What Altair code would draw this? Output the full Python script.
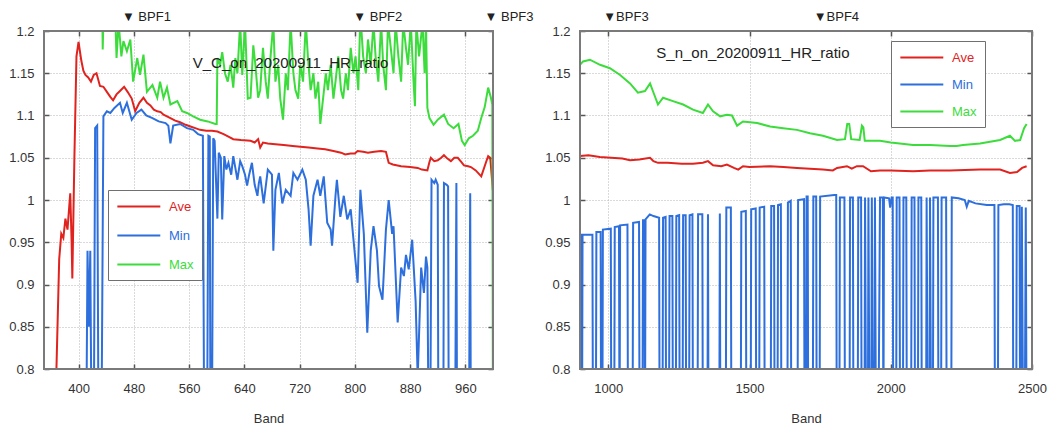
import altair as alt
import pandas as pd

# ---------------- VNIR panel: V_C_on_20200911_HR_ratio ----------------
vc_ave = [(360, 0.75), (368, 0.80), (372, 0.93), (375, 0.960), (378, 0.955), (381, 0.978), (384, 0.965),
          (388, 1.008), (390, 0.950), (391, 0.907), (394, 1.050), (397, 1.170), (400, 1.187), (404, 1.165),
          (407, 1.153), (410, 1.148), (414, 1.145), (418, 1.140), (422, 1.148), (426, 1.150), (431, 1.135),
          (436, 1.134), (441, 1.128), (446, 1.122), (450, 1.118), (455, 1.125), (460, 1.129), (466, 1.134),
          (471, 1.128), (477, 1.120), (482, 1.105), (488, 1.115), (494, 1.121), (499, 1.115), (504, 1.112),
          (509, 1.107), (514, 1.105), (519, 1.104), (523, 1.101), (528, 1.099), (533, 1.097), (540, 1.094),
          (547, 1.092), (555, 1.089), (562, 1.087), (569, 1.085), (576, 1.083), (585, 1.082), (593, 1.082),
          (601, 1.081), (610, 1.078), (617, 1.075), (624, 1.072), (635, 1.071), (649, 1.070), (655, 1.068),
          (660, 1.072), (663, 1.062), (667, 1.068), (674, 1.067), (685, 1.066), (697, 1.065), (710, 1.064),
          (721, 1.063), (733, 1.062), (746, 1.061), (757, 1.060), (769, 1.058), (780, 1.056), (786, 1.054),
          (794, 1.055), (800, 1.055), (804, 1.058), (812, 1.057), (819, 1.056), (828, 1.057), (838, 1.058),
          (845, 1.057), (849, 1.044), (855, 1.042), (867, 1.040), (880, 1.039), (891, 1.038), (897, 1.036),
          (905, 1.035), (908, 1.045), (910, 1.050), (915, 1.046), (920, 1.047), (925, 1.050), (929, 1.053),
          (934, 1.049), (939, 1.046), (944, 1.050), (949, 1.050), (954, 1.045), (958, 1.041), (964, 1.040),
          (968, 1.039), (975, 1.035), (983, 1.028), (990, 1.045), (993, 1.052), (996, 1.050), (998, 1.030),
          (1000, 1.010)]

vc_min = [(405, 0.70), (411, 0.70), (413, 0.94), (415, 0.85), (417, 0.94), (419, 0.70), (422, 0.70),
          (424, 1.085), (427, 1.088), (429, 0.70), (433, 0.70), (436, 1.099), (441, 1.105), (446, 1.103),
          (452, 1.109), (460, 1.115), (464, 1.103), (470, 1.115), (477, 1.095), (484, 1.103), (491, 1.107),
          (498, 1.100), (507, 1.097), (516, 1.093), (526, 1.091), (530, 1.088), (533, 1.067), (537, 1.088),
          (547, 1.090), (557, 1.085), (566, 1.083), (573, 1.078), (580, 1.076), (582, 0.70), (586, 0.70),
          (588, 1.076), (590, 1.075), (591, 0.70), (593, 0.70), (595, 1.073), (597, 1.070), (601, 0.978),
          (603, 1.056), (606, 1.050), (608, 0.977), (611, 1.052), (614, 1.036), (617, 1.044), (621, 1.030),
          (624, 1.052), (627, 1.038), (630, 1.024), (634, 1.046), (637, 1.040), (641, 1.030), (644, 1.017),
          (647, 1.030), (651, 1.044), (655, 1.018), (659, 1.005), (661, 1.020), (663, 1.028), (668, 0.996),
          (674, 1.036), (680, 1.030), (682, 0.940), (685, 1.012), (690, 1.032), (695, 0.996), (700, 1.012),
          (707, 1.005), (711, 1.032), (717, 1.024), (724, 1.036), (729, 1.024), (733, 0.989), (736, 0.946),
          (740, 1.005), (746, 1.024), (750, 1.005), (755, 1.028), (760, 0.973), (765, 0.965), (767, 0.946),
          (772, 1.005), (774, 1.024), (779, 0.980), (784, 1.005), (789, 0.977), (794, 0.989), (798, 0.953),
          (804, 0.902), (808, 1.012), (813, 0.960), (818, 0.843), (823, 0.940), (827, 0.969), (832, 0.940),
          (835, 0.898), (840, 0.882), (845, 0.965), (849, 1.000), (854, 0.960), (856, 0.969), (862, 0.855),
          (867, 0.920), (871, 0.910), (874, 0.935), (878, 0.918), (883, 0.953), (888, 0.880), (891, 0.790),
          (896, 0.920), (900, 0.890), (903, 0.933), (905, 0.920), (907, 0.70), (909, 0.70), (911, 1.024),
          (915, 1.020), (917, 1.024), (920, 1.018), (921, 0.70), (928, 0.70), (929, 1.020), (933, 1.018),
          (935, 1.016), (936, 0.70), (945, 0.70), (947, 1.020), (948, 0.70), (965, 0.70), (967, 1.008),
          (968, 0.70), (1000, 0.70)]

vc_max = [(350, 1.25), (430, 1.25), (434, 1.25), (435, 1.178), (437, 1.25), (452, 1.25), (455, 1.168),
          (458, 1.21), (462, 1.170), (465, 1.188), (470, 1.176), (475, 1.190), (479, 1.140), (485, 1.168),
          (489, 1.148), (494, 1.172), (499, 1.128), (507, 1.136), (514, 1.121), (518, 1.140), (523, 1.121),
          (528, 1.133), (533, 1.113), (543, 1.117), (550, 1.105), (557, 1.103), (566, 1.099), (576, 1.095),
          (587, 1.093), (598, 1.090), (600, 1.090), (601, 1.168), (605, 1.160), (608, 1.175), (612, 1.150),
          (616, 1.140), (620, 1.160), (624, 1.133), (627, 1.168), (630, 1.150), (634, 1.210), (637, 1.148),
          (641, 1.210), (645, 1.120), (649, 1.121), (653, 1.183), (656, 1.160), (660, 1.121), (663, 1.130),
          (667, 1.180), (671, 1.140), (674, 1.120), (678, 1.170), (682, 1.210), (685, 1.140), (689, 1.160),
          (692, 1.120), (696, 1.095), (700, 1.150), (703, 1.130), (707, 1.210), (711, 1.150), (714, 1.130),
          (718, 1.120), (721, 1.160), (725, 1.140), (729, 1.210), (732, 1.170), (736, 1.130), (740, 1.150),
          (743, 1.120), (747, 1.140), (750, 1.090), (754, 1.120), (758, 1.150), (761, 1.130), (765, 1.160),
          (769, 1.120), (772, 1.140), (776, 1.170), (780, 1.130), (783, 1.120), (787, 1.150), (790, 1.130),
          (794, 1.180), (798, 1.150), (801, 1.170), (805, 1.130), (808, 1.220), (812, 1.170), (816, 1.150),
          (819, 1.190), (823, 1.160), (827, 1.210), (830, 1.170), (834, 1.140), (838, 1.210), (841, 1.160),
          (845, 1.130), (848, 1.210), (852, 1.180), (856, 1.150), (859, 1.210), (863, 1.170), (867, 1.140),
          (870, 1.210), (874, 1.180), (877, 1.160), (881, 1.210), (885, 1.140), (887, 1.111), (889, 1.210),
          (893, 1.170), (898, 1.210), (901, 1.150), (903, 1.210), (905, 1.109), (908, 1.097), (914, 1.089),
          (920, 1.095), (929, 1.101), (935, 1.090), (943, 1.085), (950, 1.090), (955, 1.070), (959, 1.065),
          (965, 1.073), (971, 1.076), (978, 1.082), (983, 1.097), (988, 1.110), (993, 1.133), (997, 1.121),
          (999, 1.113), (1000, 0.70)]

# ---------------- SWIR panel: S_n_on_20200911_HR_ratio ----------------
sn_ave = [(900, 1.052), (930, 1.053), (970, 1.051), (1010, 1.050), (1050, 1.049), (1077, 1.047), (1110, 1.048),
          (1148, 1.050), (1160, 1.046), (1176, 1.044), (1210, 1.044), (1260, 1.043), (1300, 1.043), (1335, 1.044),
          (1353, 1.046), (1371, 1.041), (1400, 1.040), (1420, 1.042), (1445, 1.038), (1460, 1.036), (1477, 1.040),
          (1500, 1.039), (1573, 1.040), (1620, 1.039), (1668, 1.038), (1714, 1.037), (1760, 1.036), (1795, 1.035),
          (1810, 1.038), (1845, 1.040), (1862, 1.037), (1880, 1.040), (1902, 1.040), (1930, 1.034), (1962, 1.035),
          (2000, 1.035), (2079, 1.034), (2139, 1.035), (2210, 1.035), (2316, 1.036), (2387, 1.036), (2422, 1.032),
          (2447, 1.033), (2465, 1.038), (2481, 1.040)]

sn_min = [(900, 0.959), (905, 0.959), (907, 0.70), (909, 0.959), (944, 0.959), (946, 0.70), (956, 0.70),
          (958, 0.962), (973, 0.962), (975, 0.70), (979, 0.70), (981, 0.965), (1009, 0.966), (1011, 0.70),
          (1021, 0.70), (1023, 0.968), (1038, 0.969), (1040, 0.70), (1042, 0.970), (1068, 0.971), (1070, 0.70),
          (1086, 0.70), (1088, 0.973), (1109, 0.974), (1111, 0.70), (1121, 0.70), (1123, 0.976), (1128, 0.976),
          (1130, 0.70), (1132, 0.977), (1147, 0.983), (1160, 0.981), (1180, 0.979), (1182, 0.70), (1192, 0.70),
          (1194, 0.979), (1203, 0.980), (1205, 0.70), (1215, 0.70), (1217, 0.981), (1227, 0.981), (1229, 0.70),
          (1239, 0.70), (1241, 0.981), (1251, 0.982), (1253, 0.70), (1263, 0.70), (1265, 0.982), (1274, 0.982),
          (1276, 0.70), (1286, 0.70), (1288, 0.982), (1298, 0.983), (1300, 0.70), (1316, 0.70), (1318, 0.983),
          (1333, 0.983), (1335, 0.70), (1351, 0.70), (1353, 0.983), (1355, 0.70), (1393, 0.70), (1395, 0.984),
          (1397, 0.70), (1416, 0.70), (1418, 0.991), (1434, 0.991), (1436, 0.70), (1469, 0.70), (1471, 0.986),
          (1487, 0.987), (1489, 0.70), (1504, 0.70), (1506, 0.989), (1522, 0.990), (1524, 0.70), (1534, 0.70),
          (1536, 0.991), (1552, 0.992), (1554, 0.70), (1575, 0.70), (1577, 0.993), (1587, 0.993), (1589, 0.70),
          (1599, 0.70), (1601, 0.994), (1611, 0.995), (1613, 0.70), (1634, 0.70), (1636, 0.997), (1646, 0.999),
          (1648, 0.70), (1670, 0.70), (1672, 1.000), (1693, 1.001), (1695, 0.70), (1700, 0.70), (1702, 1.004),
          (1706, 1.004), (1708, 0.70), (1724, 0.70), (1726, 1.004), (1736, 1.004), (1738, 0.70), (1748, 0.70),
          (1750, 1.004), (1800, 1.006), (1807, 1.006), (1809, 0.70), (1818, 0.70), (1820, 1.003), (1836, 1.003),
          (1838, 0.70), (1854, 0.70), (1856, 1.003), (1866, 1.003), (1868, 0.70), (1883, 0.70), (1885, 1.003),
          (1895, 1.003), (1897, 0.70), (1907, 0.70), (1909, 1.003), (1913, 0.70), (1919, 0.70), (1921, 1.003),
          (1925, 0.70), (1931, 0.70), (1933, 1.003), (1937, 0.70), (1942, 0.70), (1944, 1.003), (1948, 0.70),
          (1956, 0.70), (1962, 1.003), (1972, 1.003), (1974, 0.70), (1976, 1.003), (1994, 1.002), (1998, 0.991),
          (2003, 1.003), (2007, 1.003), (2009, 0.70), (2019, 0.70), (2021, 1.003), (2031, 1.003), (2033, 0.70),
          (2043, 0.70), (2045, 1.003), (2055, 1.003), (2057, 0.70), (2072, 0.70), (2074, 1.003), (2084, 1.003),
          (2086, 0.70), (2096, 0.70), (2098, 1.003), (2108, 1.003), (2110, 0.70), (2125, 0.70), (2127, 1.003),
          (2131, 0.70), (2137, 0.70), (2139, 1.003), (2143, 0.70), (2149, 0.70), (2151, 1.003), (2167, 1.003),
          (2169, 0.70), (2178, 0.70), (2180, 1.003), (2196, 1.003), (2198, 0.70), (2214, 0.70), (2216, 1.003),
          (2240, 1.002), (2262, 1.000), (2269, 0.992), (2276, 0.999), (2300, 0.996), (2340, 0.994), (2367, 0.994),
          (2369, 0.70), (2379, 0.70), (2381, 0.994), (2400, 0.995), (2420, 0.995), (2432, 0.994), (2434, 0.70),
          (2444, 0.70), (2446, 0.993), (2456, 0.993), (2458, 0.70), (2462, 0.70), (2464, 0.992), (2469, 0.70),
          (2474, 0.70), (2478, 0.991), (2481, 0.70)]

sn_max = [(900, 1.160), (911, 1.164), (935, 1.166), (971, 1.160), (1006, 1.156), (1042, 1.148), (1077, 1.138),
          (1105, 1.127), (1130, 1.129), (1148, 1.138), (1158, 1.129), (1176, 1.113), (1194, 1.121), (1229, 1.117),
          (1265, 1.113), (1300, 1.107), (1335, 1.103), (1353, 1.113), (1371, 1.105), (1396, 1.099), (1420, 1.101),
          (1438, 1.100), (1456, 1.088), (1477, 1.093), (1527, 1.091), (1573, 1.087), (1619, 1.085), (1668, 1.083),
          (1714, 1.079), (1760, 1.076), (1810, 1.071), (1838, 1.072), (1846, 1.090), (1853, 1.090), (1860, 1.072),
          (1890, 1.071), (1898, 1.088), (1903, 1.086), (1908, 1.070), (1962, 1.070), (2000, 1.068), (2079, 1.065),
          (2139, 1.065), (2210, 1.064), (2233, 1.064), (2256, 1.065), (2316, 1.067), (2387, 1.071), (2422, 1.076),
          (2440, 1.070), (2458, 1.071), (2472, 1.085), (2481, 1.090)]

series_names = ["Ave", "Min", "Max"]
series_colors = ["#e0231e", "#2d6fdc", "#3cdc3c"]
y_ticks = [0.8, 0.85, 0.9, 0.95, 1.0, 1.05, 1.1, 1.15, 1.2]
vc_x_ticks = [400, 480, 560, 640, 720, 800, 880, 960]
sn_x_ticks = [1000, 1500, 2000, 2500]
vc_bpf_labels = ["▼ BPF1", "▼ BPF2", "▼ BPF3"]
vc_bpf_bands = [470, 805, 995]
sn_bpf_labels = ["▼BPF3", "▼BPF4"]
sn_bpf_bands = [1000, 1745]
vc_title = ["V_C_on_20200911_HR_ratio"]
vc_title_at = [(707, 1.162)]
sn_title = ["S_n_on_20200911_HR_ratio"]
sn_title_at = [(1512, 1.174)]

FONT = "Liberation Sans"
H = 338
TXT = "#333333"
FRAME_COLOR = "#7a7a7a"

label_color_expr = ("datum.value == 'Ave' ? '%s' : datum.value == 'Min' ? '%s' : '%s'"
                    % tuple(series_colors))


def make_panel(ave, mn, mx, xdom, xticks, bpf_labels, bpf_bands, title, title_at, lx, ly, row_pad, w):
    rows = []
    for name, pts in zip(series_names, [ave, mn, mx]):
        rows += [{"band": b, "ratio": v, "series": name} for b, v in pts]
    df = pd.DataFrame(rows)
    xs = alt.Scale(domain=xdom, nice=False, zero=False)
    ys = alt.Scale(domain=[0.8, 1.2], nice=False, zero=False)

    lines = alt.Chart(df).mark_line(clip=True, strokeWidth=2).encode(
        x=alt.X("band:Q", scale=xs, axis=alt.Axis(
            values=xticks, format="d", grid=True, gridColor="#b5b5b5", gridDash=[1, 2], ticks=False,
            domain=False, labelFontSize=13, labelColor=TXT, labelFont=FONT, labelPadding=13,
            labelFlush=False, title="Band", titleFontSize=13, titleFontWeight="normal", titleFont=FONT,
            titleColor=TXT, titlePadding=17)),
        y=alt.Y("ratio:Q", scale=ys, axis=alt.Axis(
            values=y_ticks, format="~g", grid=True, gridColor="#b5b5b5", gridDash=[1, 2], ticks=False,
            domain=False, labelFontSize=13, labelColor=TXT, labelFont=FONT, labelPadding=10, title=None)),
        color=alt.Color("series:N", scale=alt.Scale(domain=series_names, range=series_colors),
                        legend=alt.Legend(orient="none", legendX=lx, legendY=ly, title=None,
                                          symbolType="M-1,0H5", symbolSize=205, symbolStrokeWidth=2,
                                          labelFontSize=13, labelFont=FONT, labelOffset=36,
                                          labelColor={"expr": label_color_expr},
                                          strokeColor="#707070", fillColor="white", padding=8,
                                          rowPadding=row_pad)),
    )

    tick_style = dict(labels=False, grid=False, domain=False, ticks=True, tickSize=5,
                      tickColor="#555555", tickWidth=1.5, title=None)
    ticks_a = alt.Chart(df).mark_line(opacity=0, clip=True).encode(
        x=alt.X("band:Q", scale=xs, axis=alt.Axis(orient="top", offset=-H, values=xticks, **tick_style)),
        y=alt.Y("ratio:Q", scale=ys, axis=alt.Axis(orient="right", offset=-w, values=y_ticks, **tick_style)),
    )
    ticks_b = alt.Chart(df).mark_line(opacity=0, clip=True).encode(
        x=alt.X("band:Q", scale=xs, axis=alt.Axis(orient="bottom", offset=-H, values=xticks, **tick_style)),
        y=alt.Y("ratio:Q", scale=ys, axis=alt.Axis(orient="left", offset=-w, values=y_ticks, **tick_style)),
    )

    # plot frame (the grey box round the plot area)
    frame = alt.Chart(pd.DataFrame({"k": [0]})).mark_rect(
        filled=False, stroke=FRAME_COLOR, strokeWidth=2, fillOpacity=0).encode(
        x=alt.value(0), x2=alt.value(w), y=alt.value(0), y2=alt.value(H))

    bpf_df = pd.DataFrame({"label": bpf_labels, "band": bpf_bands})
    bpf = alt.Chart(bpf_df).mark_text(align="left", baseline="middle", dx=-5, fontSize=13, font=FONT,
                                      color="#222222").encode(
        x=alt.X("band:Q", scale=xs, axis=None),
        y=alt.value(-14),
        text="label:N",
    )

    title_df = pd.DataFrame({"label": title, "band": [p[0] for p in title_at],
                             "ratio": [p[1] for p in title_at]})
    title_mark = alt.Chart(title_df).mark_text(align="center", baseline="middle", fontSize=15, font=FONT,
                                               color="#222222").encode(
        x=alt.X("band:Q", scale=xs, axis=None),
        y=alt.Y("ratio:Q", scale=ys, axis=None),
        text="label:N",
    )

    return alt.layer(lines, ticks_a, ticks_b, frame, bpf, title_mark).resolve_axis(
        x="independent", y="independent").properties(width=w, height=H)


left = make_panel(vc_ave, vc_min, vc_max, [350, 1000], vc_x_ticks, vc_bpf_labels, vc_bpf_bands,
                  vc_title, vc_title_at, 64, 159, 13, 449)
right = make_panel(sn_ave, sn_min, sn_max, [900, 2500], sn_x_ticks, sn_bpf_labels, sn_bpf_bands,
                   sn_title, sn_title_at, 311, 10, 11, 452)

chart = alt.hconcat(left, right, spacing=87, bounds="flush").resolve_scale(
    color="independent").properties(
    padding={"left": 0, "top": 3, "right": 0, "bottom": 0}
).configure(font=FONT).configure_view(stroke=None)

chart.save("out.html", embed_options={"renderer": "svg", "actions": False})
